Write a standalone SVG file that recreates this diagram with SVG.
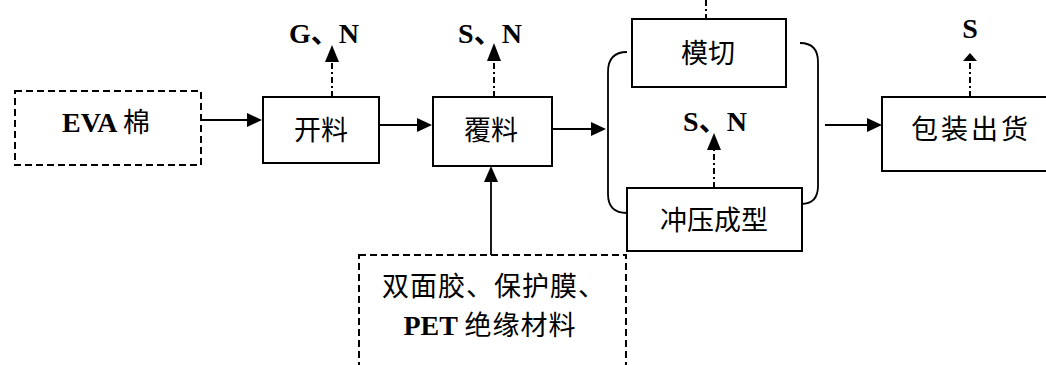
<svg xmlns="http://www.w3.org/2000/svg" width="1046" height="365" viewBox="0 0 1046 365">
<style>
.box{fill:#fff;stroke:#000;stroke-width:2}
.dbox{fill:none;stroke:#000;stroke-width:2;stroke-dasharray:7 4}
.cn{font-family:"Noto Sans CJK SC",sans-serif;font-size:27px;fill:#000;text-anchor:middle}
.lt{font-family:"Liberation Serif","Noto Sans CJK SC",serif;font-size:28px;font-weight:bold;fill:#000;text-anchor:middle}
.ln{fill:none;stroke:#000;stroke-width:1.8}
.dd{fill:none;stroke:#000;stroke-width:2;stroke-dasharray:6 3 2 3}
.ah{fill:#000}
</style>
<rect width="1046" height="365" fill="#fff"/>
<g id="connectors">
<line class="ln" x1="202" y1="120" x2="248" y2="120"/><polygon class="ah" points="262,120 247,113 247,127"/>
<line class="ln" x1="380" y1="125" x2="418" y2="125"/><polygon class="ah" points="432,125 417,118 417,132"/>
<line class="ln" x1="552" y1="129" x2="592" y2="129"/><polygon class="ah" points="606,129 591,122 591,136"/>
<line class="ln" x1="825" y1="125" x2="868" y2="125"/><polygon class="ah" points="882,125 867,118 867,132"/>
<line class="ln" x1="491" y1="255" x2="491" y2="182"/><polygon class="ah" points="491,166 484,182 498,182"/>
<line class="dd" x1="332" y1="97" x2="332" y2="61"/><polygon class="ah" points="332,45 325,62 339,62"/>
<line class="dd" x1="494" y1="97" x2="494" y2="61"/><polygon class="ah" points="494,43 487,61 501,61"/>
<line class="dd" x1="714" y1="188" x2="714" y2="149"/><polygon class="ah" points="714,133 707,150 721,150"/>
<line class="dd" x1="970" y1="97" x2="970" y2="60"/><polygon class="ah" points="970,53 963,61 977,61"/>
<line class="dd" x1="706" y1="0" x2="706" y2="19"/>
<path class="ln" d="M627 52 Q608 52 608 72 L608 194 Q608 213 627 213"/>
<path class="ln" d="M800 43 Q818 43 818 62 L818 186 Q818 204 801 204"/>
</g>
<g id="eva"><rect class="dbox" x="15" y="91" width="186" height="74"/><text class="lt" x="106" y="132">EVA <tspan font-family="Noto Sans CJK SC" font-weight="normal" font-size="27">棉</tspan></text></g>
<g id="kailiao"><rect class="box" x="263" y="97" width="116" height="66"/><text class="cn" x="321" y="140">开料</text></g>
<g id="fuliao"><rect class="box" x="433" y="97" width="119" height="69"/><text class="cn" x="491" y="140">覆料</text></g>
<g id="moqie"><rect class="box" x="632" y="19" width="154" height="68"/><text class="cn" x="708" y="63">模切</text></g>
<g id="chongya"><rect class="box" x="627" y="188" width="175" height="63"/><text class="cn" x="714" y="230">冲压成型</text></g>
<g id="baozhuang"><rect class="box" x="882" y="97" width="170" height="74"/><text class="cn" x="971" y="139" letter-spacing="3">包装出货</text></g>
<g id="materials"><rect class="dbox" x="359" y="255" width="267" height="120"/>
<text class="cn" x="494" y="296" letter-spacing="1">双面胶、保护膜、</text>
<text class="lt" x="490" y="335">PET <tspan font-family="Noto Sans CJK SC" font-weight="normal" font-size="27" letter-spacing="1">绝缘材料</tspan></text></g>
<g id="labels">
<text class="lt" x="324" y="43">G、N</text>
<text class="lt" x="490" y="43">S、N</text>
<text class="lt" x="715" y="131">S、N</text>
<text class="lt" x="970" y="38">S</text>
</g>
</svg>
